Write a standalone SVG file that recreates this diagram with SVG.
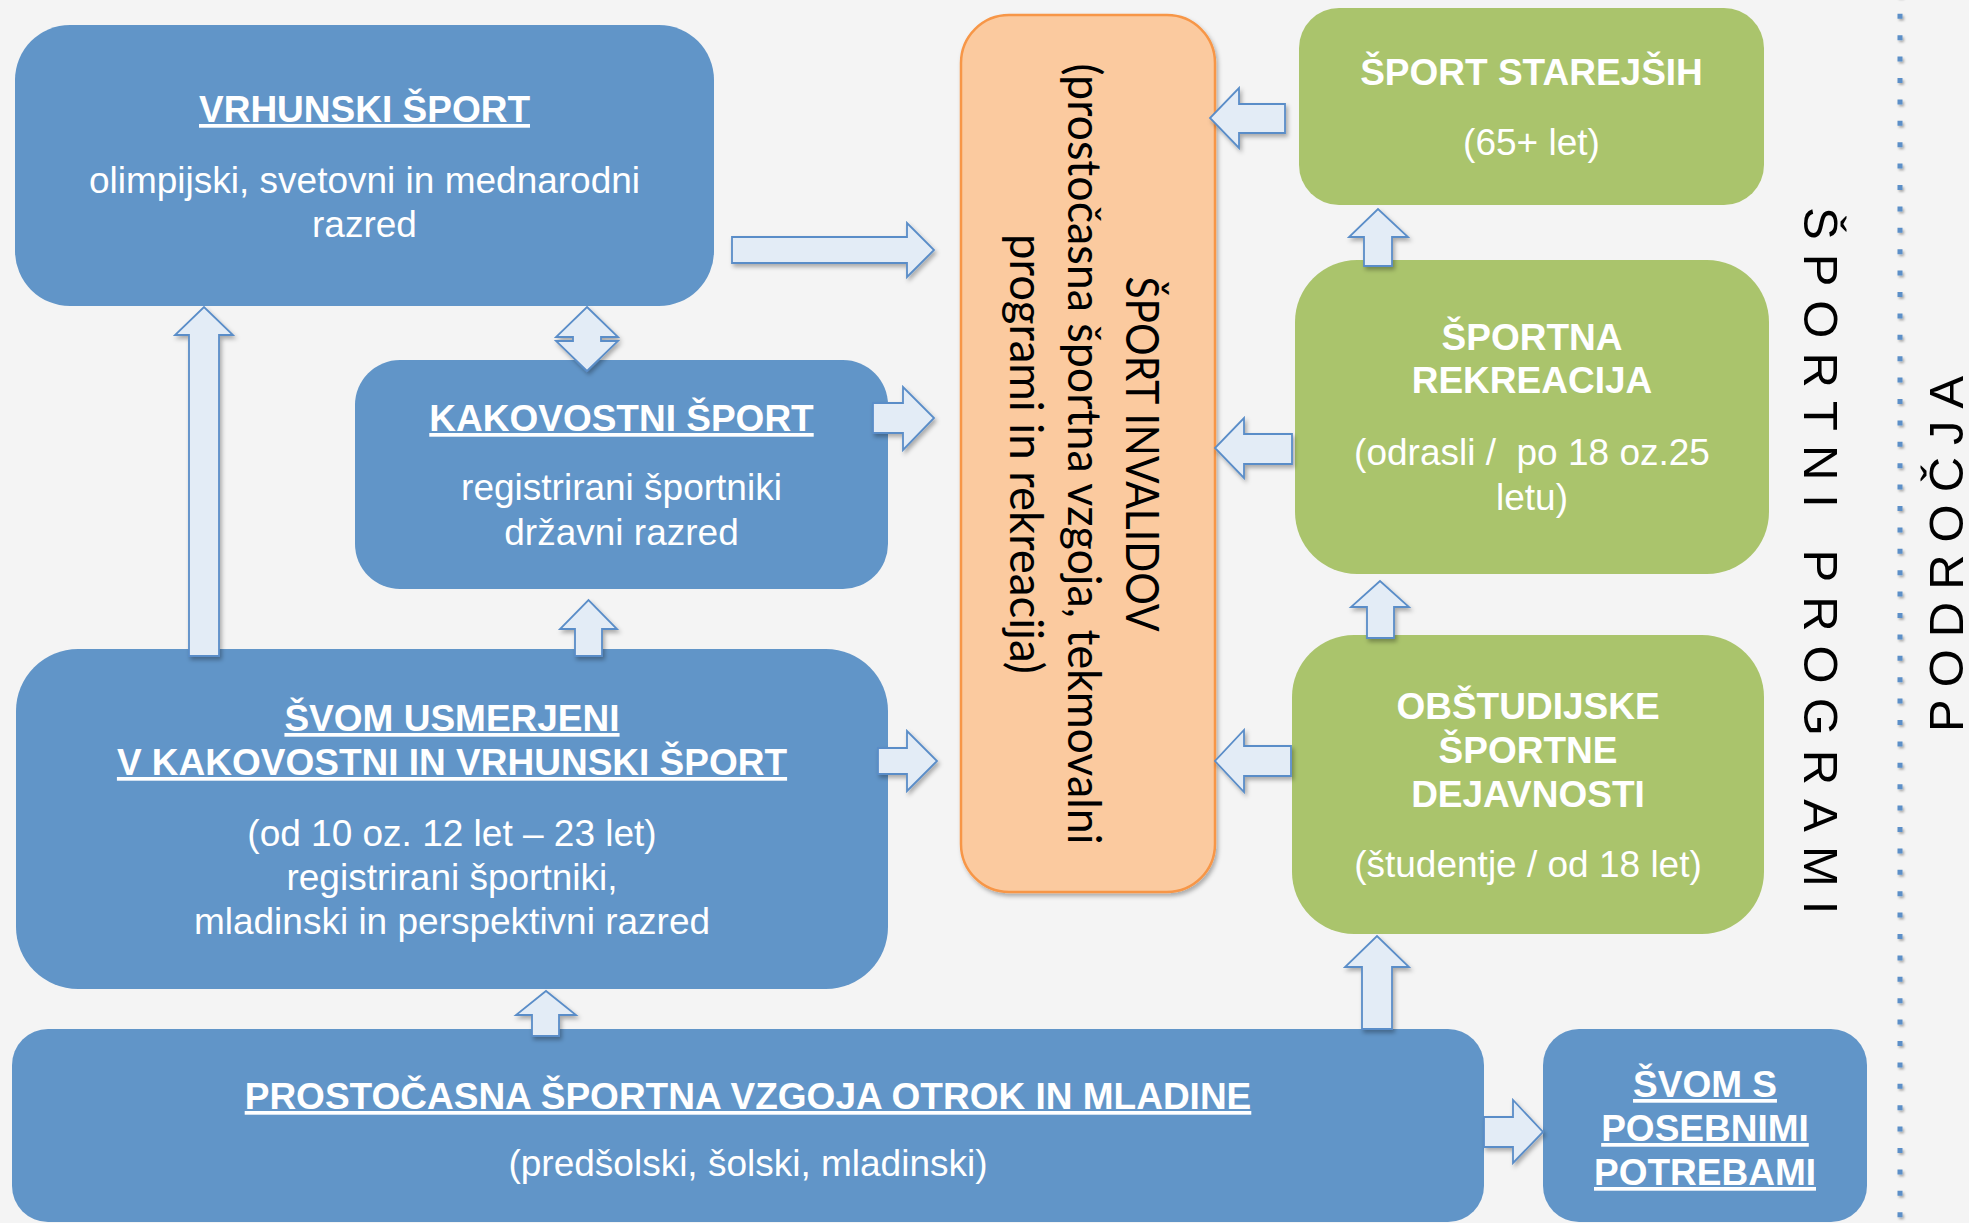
<svg xmlns="http://www.w3.org/2000/svg" width="1969" height="1223" viewBox="0 0 1969 1223">
<defs>
<style>
.bg{fill:#F4F4F4}
.blue{fill:#6195C8}
.green{fill:#AAC46C}
.orange{fill:#FBCA9F;stroke:#F79646;stroke-width:2.5}
.arr{fill:#E3ECF6;stroke:#5A8DC8;stroke-width:1.8;stroke-linejoin:miter}
.t{font-family:"Liberation Sans",Arial,sans-serif;font-size:37px;fill:#FFFFFF;text-anchor:middle}
.b{font-weight:bold}
.u{text-decoration:underline}
.o{font-family:Lato,"Noto Sans","Liberation Sans",sans-serif;font-size:46px;fill:#000000;text-anchor:middle}
.side{font-family:"Liberation Sans",Arial,sans-serif;font-size:49px;fill:#000000}
</style>
<filter id="sh" x="-20%" y="-20%" width="140%" height="140%">
<feDropShadow dx="2" dy="3" stdDeviation="2" flood-color="#000000" flood-opacity="0.3"/>
</filter>
<filter id="shl" filterUnits="userSpaceOnUse" x="1880" y="-20" width="40" height="1263">
<feDropShadow dx="1.5" dy="2" stdDeviation="1.2" flood-color="#000000" flood-opacity="0.3"/>
</filter>
</defs>
<rect class="bg" x="0" y="0" width="1969" height="1223"/>

<line id="divider" x1="1900" y1="-7.6" x2="1900" y2="1223" stroke="#5B8FC8" stroke-width="5" stroke-dasharray="5 16.4" filter="url(#shl)"/>

<g id="vrhunski">
<rect class="blue" x="15" y="25" width="699" height="281" rx="55"/>
<text class="t b u" x="364.5" y="122">VRHUNSKI ŠPORT</text>
<text class="t" x="364.5" y="192.5">olimpijski, svetovni in mednarodni</text>
<text class="t" x="364.5" y="237">razred</text>
</g>

<g id="kakovostni">
<rect class="blue" x="355" y="360" width="533" height="229" rx="45"/>
<text class="t b u" x="621.5" y="431">KAKOVOSTNI ŠPORT</text>
<text class="t" x="621.5" y="500">registrirani športniki</text>
<text class="t" x="621.5" y="544.5">državni razred</text>
</g>

<g id="svom-usmerjeni">
<rect class="blue" x="16" y="649" width="872" height="340" rx="62"/>
<text class="t b u" x="452" y="731">ŠVOM USMERJENI</text>
<text class="t b u" x="452" y="775">V KAKOVOSTNI IN VRHUNSKI ŠPORT</text>
<text class="t" x="452" y="846">(od 10 oz. 12 let – 23 let)</text>
<text class="t" x="452" y="890">registrirani športniki,</text>
<text class="t" x="452" y="934">mladinski in perspektivni razred</text>
</g>

<g id="prostocasna">
<rect class="blue" x="12" y="1029" width="1472" height="193" rx="36"/>
<text class="t b u" x="748" y="1109">PROSTOČASNA ŠPORTNA VZGOJA OTROK IN MLADINE</text>
<text class="t" x="748" y="1176">(predšolski, šolski, mladinski)</text>
</g>

<g id="svom-s">
<rect class="blue" x="1543" y="1029" width="324" height="193" rx="36"/>
<text class="t b u" x="1705" y="1097">ŠVOM S</text>
<text class="t b u" x="1705" y="1141">POSEBNIMI</text>
<text class="t b u" x="1705" y="1185">POTREBAMI</text>
</g>

<g id="invalidi">
<rect class="orange" x="961" y="15" width="254" height="877" rx="48" filter="url(#sh)"/>
<g transform="translate(1126,454) rotate(90)">
<text class="o" x="0" y="0" textLength="355" lengthAdjust="spacingAndGlyphs">ŠPORT INVALIDOV</text>
<text class="o" x="0" y="58" textLength="781" lengthAdjust="spacingAndGlyphs">(prostočasna športna vzgoja, tekmovalni</text>
<text class="o" x="0" y="116" textLength="440" lengthAdjust="spacingAndGlyphs">programi in rekreacija)</text>
</g>
</g>

<g id="starejsi">
<rect class="green" x="1299" y="8" width="465" height="197" rx="40"/>
<text class="t b" x="1531.5" y="85">ŠPORT STAREJŠIH</text>
<text class="t" x="1531.5" y="155">(65+ let)</text>
</g>

<g id="rekreacija">
<rect class="green" x="1295" y="260" width="474" height="314" rx="62"/>
<text class="t b" x="1532" y="350">ŠPORTNA</text>
<text class="t b" x="1532" y="393">REKREACIJA</text>
<text class="t" x="1532" y="465">(odrasli / &#160;po 18 oz.25</text>
<text class="t" x="1532" y="510">letu)</text>
</g>

<g id="obstudijske">
<rect class="green" x="1292" y="635" width="472" height="299" rx="62"/>
<text class="t b" x="1528" y="719">OBŠTUDIJSKE</text>
<text class="t b" x="1528" y="763">ŠPORTNE</text>
<text class="t b" x="1528" y="807">DEJAVNOSTI</text>
<text class="t" x="1528" y="877">(študentje / od 18 let)</text>
</g>

<g id="sportni-programi">
<text class="side" transform="translate(1804,207) rotate(90)" letter-spacing="14">ŠPORTNI PROGRAMI</text>
</g>
<g id="podrocja">
<text class="side" transform="translate(1963,732) rotate(-90)" letter-spacing="12">PODROČJA</text>
</g>

<g id="connectors" filter="url(#sh)">
<polygon class="arr" points="732,237 907,237 907,223 934,250 907,277 907,263 732,263"/>
<polygon class="arr" points="873,403 903,403 903,387 934,418 903,450 903,433 873,433"/>
<polygon class="arr" points="878,748 907,748 907,731 937,761 907,791 907,774 878,774"/>
<polygon class="arr" points="189,656 189,335 175,335 204,307 233,335 219,335 219,656"/>
<polygon class="arr" points="575,656 575,629 560,629 588.5,600 617,629 602,629 602,656"/>
<polygon class="arr" points="587,307 618,337 601,337 601,341 618,341 587,371 556,341 573,341 573,337 556,337"/>
<polygon class="arr" points="532,1036 532,1015 516,1015 546,991 576,1015 559,1015 559,1036"/>
<polygon class="arr" points="1484,1117 1513,1117 1513,1100 1543,1132 1513,1163 1513,1147 1484,1147"/>
<polygon class="arr" points="1362,1029 1362,967 1345,967 1377,936 1409,967 1392,967 1392,1029"/>
<polygon class="arr" points="1291,746 1244,746 1244,730 1215,761 1244,792 1244,776 1291,776"/>
<polygon class="arr" points="1367,638 1367,607 1351,607 1380,581 1409,607 1394,607 1394,638"/>
<polygon class="arr" points="1292,434 1244,434 1244,418 1215,448 1244,478 1244,464 1292,464"/>
<polygon class="arr" points="1364,266 1364,237 1349,237 1378,209 1408,237 1392,237 1392,266"/>
<polygon class="arr" points="1285,104 1239,104 1239,88 1210,118 1239,148 1239,133 1285,133"/>
</g>
</svg>
